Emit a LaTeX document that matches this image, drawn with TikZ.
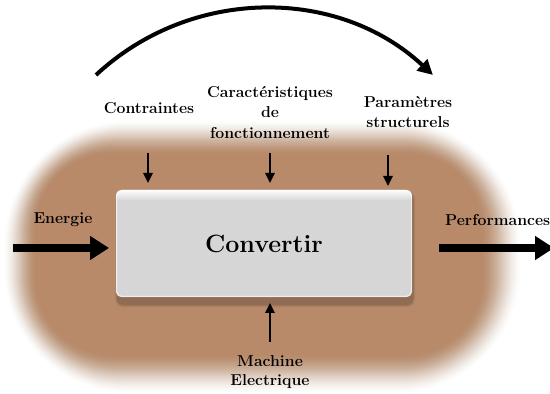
\documentclass[tikz,border=0pt]{standalone}
\usepackage{fontspec}
\usetikzlibrary{arrows.meta}
\definecolor{blob}{RGB}{184,138,106}
\definecolor{boxgrey}{RGB}{214,214,214}
\pgfdeclareverticalshading{boxshade}{100bp}{color(0bp)=(boxgrey); color(25bp)=(boxgrey); color(70bp)=(boxgrey); color(73.5bp)=(boxgrey!35!white); color(75bp)=(white); color(100bp)=(white)}
\begin{document}
\begin{tikzpicture}[x=1pt,y=1pt,
  lbl/.style={font=\bfseries\fontsize{15.8}{20.5}\selectfont, align=center, inner sep=0pt},
  thin arrow/.style={line width=2.4pt, -{Triangle[width=9pt,length=10pt]}},
  thick arrow/.style={line width=8pt, -{Triangle[width=23pt,length=19pt]}},
  arc arrow/.style={line width=4pt, -{Triangle[width=15pt,length=15pt]}},
  convbox/.style={shading=boxshade, rounded corners=6pt, minimum width=296pt, minimum height=107pt, inner sep=0pt, font=\bfseries\fontsize{25}{29}\selectfont}]
\useasboundingbox (0,0) rectangle (550,394);
\clip (0,0) rectangle (550,394);
\fill[white] (0,0) rectangle (550,394);
% soft brown background (smoothstep fade)
\foreach \i in {1,...,40}{
  \pgfmathsetmacro{\s}{(\i-1)/40}
  \pgfmathsetmacro{\f}{\i/40}
  \pgfmathsetmacro{\fa}{3*\f*\f-2*\f*\f*\f}
  \pgfmathsetmacro{\fb}{3*\s*\s-2*\s*\s*\s}
  \pgfmathsetmacro{\al}{(\fa-\fb)/(1-\fb)}
  \pgfmathsetmacro{\r}{125-55*\s}
  \fill[blob, fill opacity=\al, rounded corners=\r pt] ({3+37*\s},{0+44*\s}) rectangle ({522-45*\s},{274-38*\s});
}
% box shadow
\fill[black, opacity=0.08, rounded corners=8pt] (115,87) rectangle (415,203);
\fill[black, opacity=0.15, rounded corners=7pt] (116.5,88.5) rectangle (413.5,202);
\node[convbox] (box) at (264,150.5) {Convertir};
\draw[white, opacity=0.6, line width=1.2pt, rounded corners=5.5pt] ([shift={(0.6,0.6)}]box.south west) rectangle ([shift={(-0.6,-0.6)}]box.north east);
% labels
\node[lbl] (contr) at (149,286) {Contraintes};
\node[lbl] (carac) at (270,282) {Caractéristiques\\de\\fonctionnement};
\node[lbl] (param) at (408,282) {Paramètres\\structurels};
\node[lbl] (ener) at (63,174) {Energie};
\node[lbl, anchor=west] (perf) at (445,174) {Performances};
\node[lbl, font=\bfseries\fontsize{15.8}{19}\selectfont] (mach) at (270,22) {Machine\\Electrique};
% arc
\coordinate (arcS) at (96,319);
\draw[arc arrow] (arcS) arc[start angle=133, end angle=47, radius=247];
% small arrows
\coordinate (a1s) at (148,241); \coordinate (a1e) at (148,211);
\coordinate (a2s) at (270,241); \coordinate (a2e) at (270,211);
\coordinate (a3s) at (388,239); \coordinate (a3e) at (388,208);
\coordinate (a4s) at (270,52);  \coordinate (a4e) at (270,91);
\draw[thin arrow] (a1s) -- (a1e);
\draw[thin arrow] (a2s) -- (a2e);
\draw[thin arrow] (a3s) -- (a3e);
\draw[thin arrow] (a4s) -- (a4e);
% thick arrows
\coordinate (ls) at (13,146); \coordinate (le) at (109,146);
\coordinate (rs) at (439,146); \coordinate (re) at (554,146);
\draw[thick arrow] (ls) -- (le);
\draw[thick arrow] (rs) -- (re);
\end{tikzpicture}
\end{document}
